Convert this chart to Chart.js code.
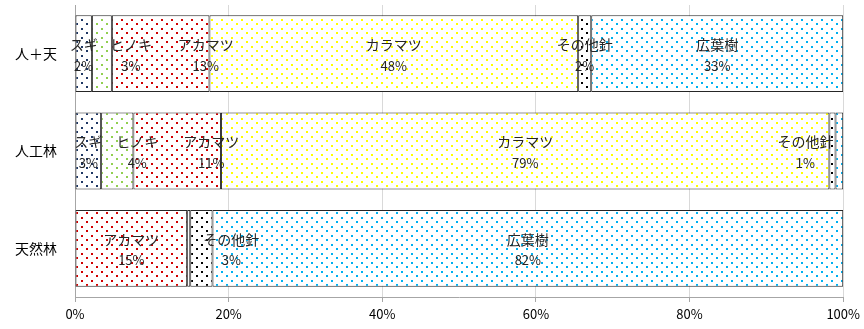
<!DOCTYPE html>
<html>
<head>
<meta charset="utf-8">
<script src="https://cdn.jsdelivr.net/npm/chart.js@4/dist/chart.umd.min.js"></script>
<style>
  html, body { margin: 0; padding: 0; background: #fff; }
  #wrap { width: 864px; height: 329px; }
</style>
</head>
<body>
<div id="wrap"><canvas id="chart" width="864" height="329"></canvas></div>
<script>
const categories = ["人＋天", "人工林", "天然林"];
const seriesNames = ["スギ", "ヒノキ", "アカマツ", "カラマツ", "その他針", "広葉樹"];

const sugi     = [2.2, 3.4, 0];
const hinoki   = [2.6, 4.2, 0];
const akamatsu = [12.7, 11.4, 14.6];
const karamatsu = [48.0, 79.2, 0.4];
const sonota   = [1.7, 0.8, 2.9];
const kouyou   = [32.8, 1.0, 82.1];

const xTicks = [0, 20, 40, 60, 80, 100];

// dot colour for each series
const dotColors = ["#1f3864", "#92d050", "#d00000", "#ffff00", "#000000", "#00b0f0"];

// labels that Excel left off, and the ones that were dragged sideways (px)
const hiddenLabels = { "人工林": ["広葉樹"], "天然林": ["スギ", "ヒノキ", "カラマツ"] };
const labelShift = {
  "人＋天": { "ヒノキ": 29, "アカマツ": 45 },
  "人工林": { "ヒノキ": 20, "アカマツ": 34, "その他針": -27 },
  "天然林": { "その他針": 30 }
};

function dotPattern(color) {
  const c = document.createElement("canvas");
  c.width = 10;
  c.height = 9;
  const g = c.getContext("2d");
  g.fillStyle = "#ffffff";
  g.fillRect(0, 0, 10, 9);
  g.fillStyle = color;
  g.fillRect(1, 1, 2, 2);
  g.fillRect(6, 5, 2, 2);
  return g.createPattern(c, "repeat");
}

const values = [sugi, hinoki, akamatsu, karamatsu, sonota, kouyou];

const segLabels = {
  id: "segLabels",
  afterDatasetsDraw(chart) {
    const ctx = chart.ctx;
    ctx.save();
    ctx.textAlign = "center";
    ctx.textBaseline = "middle";
    ctx.fillStyle = "#262626";
    chart.data.datasets.forEach((ds, di) => {
      const meta = chart.getDatasetMeta(di);
      meta.data.forEach((bar, i) => {
        const cat = categories[i];
        const name = ds.label;
        if (!ds.data[i]) return;
        if ((hiddenLabels[cat] || []).includes(name)) return;
        const shift = (labelShift[cat] || {})[name] || 0;
        const cx = (bar.x + bar.base) / 2 + shift;
        ctx.font = "14px 'Noto Sans CJK JP'";
        ctx.fillText(name, cx, bar.y - 9);
        ctx.font = "13px 'Liberation Sans Narrow', 'Noto Sans CJK JP'";
        ctx.fillText(Math.round(ds.data[i]) + "%", cx, bar.y + 12);
      });
    });
    ctx.restore();
  }
};

const ctx = document.getElementById("chart").getContext("2d");
new Chart(ctx, {
  type: "bar",
  data: {
    labels: categories,
    datasets: seriesNames.map((name, k) => ({
      label: name,
      data: values[k],
      backgroundColor: dotPattern(dotColors[k]),
      borderColor: "#262626",
      borderWidth: 1,
      borderSkipped: false,
      categoryPercentage: 0.79,
      barPercentage: 1
    }))
  },
  options: {
    indexAxis: "y",
    responsive: false,
    animation: false,
    layout: { padding: { top: 5, right: 18, bottom: 0, left: 0 } },
    plugins: {
      legend: { display: false },
      tooltip: { enabled: false },
      title: { display: false }
    },
    scales: {
      x: {
        stacked: true,
        min: 0,
        max: 100,
        afterBuildTicks: (scale) => { scale.ticks = xTicks.map(v => ({ value: v })); },
        ticks: {
          callback: (v) => v + "%",
          color: "#000",
          padding: 4,
          maxRotation: 0,
          font: { family: "'Liberation Sans Narrow', 'Noto Sans CJK JP'", size: 13 }
        },
        grid: { color: "#d9d9d9", tickLength: 5, tickColor: "#a6a6a6" },
        border: { color: "#a6a6a6" },
        afterFit: (scale) => { scale.height = 32; }
      },
      y: {
        stacked: true,
        ticks: {
          color: "#000",
          padding: 10,
          font: { family: "'Noto Sans CJK JP'", size: 14 }
        },
        grid: { display: false },
        border: { color: "#a6a6a6" },
        afterFit: (scale) => {
          scale.width = 75;
          scale.paddingTop = 0;
          scale.paddingBottom = 0;
        }
      }
    }
  },
  plugins: [segLabels]
});
</script>
</body>
</html>
